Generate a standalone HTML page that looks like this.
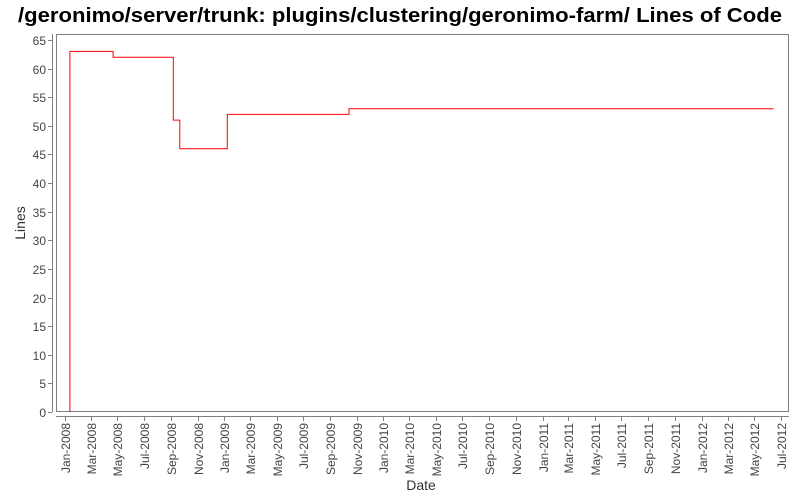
<!DOCTYPE html>
<html><head><meta charset="utf-8">
<style>
html,body{margin:0;padding:0;background:#fff;}
svg{display:block;font-family:"Liberation Sans","DejaVu Sans",sans-serif;}
</style></head>
<body>
<svg id="chart" width="800" height="500" viewBox="0 0 800 500">
<text x="400" y="22" text-anchor="middle" font-size="20" font-weight="bold" textLength="764" lengthAdjust="spacingAndGlyphs">/geronimo/server/trunk: plugins/clustering/geronimo-farm/ Lines of Code</text>
<rect x="56.5" y="34.5" width="732" height="377" fill="#fff" stroke="#808080"/>
<line x1="52.5" y1="34" x2="52.5" y2="412" stroke="#808080"/>
<line x1="56" y1="416.5" x2="789" y2="416.5" stroke="#808080"/>
<g id="yaxis"></g>
<g id="xaxis"></g>
<text transform="translate(25,223) rotate(-90)" text-anchor="middle" font-size="14" fill="#333">Lines</text>
<text x="421" y="490" text-anchor="middle" font-size="14" fill="#333">Date</text>
<g id="series"></g>
</svg>
<script>
const stepDates = ["2008-01-13","2008-04-21","2008-09-06","2008-09-21","2009-01-08","2009-10-14","2012-06-14"];
const stepValues = [63,62,51,46,52,53,53];
const yTicks = [0,5,10,15,20,25,30,35,40,45,50,55,60,65];
const xTickLabels = ["Jan-2008","Mar-2008","May-2008","Jul-2008","Sep-2008","Nov-2008","Jan-2009","Mar-2009","May-2009","Jul-2009","Sep-2009","Nov-2009","Jan-2010","Mar-2010","May-2010","Jul-2010","Sep-2010","Nov-2010","Jan-2011","Mar-2011","May-2011","Jul-2011","Sep-2011","Nov-2011","Jan-2012","Mar-2012","May-2012","Jul-2012"];

const NS="http://www.w3.org/2000/svg";
const t0=Date.UTC(2008,0,1), t1=Date.UTC(2012,6,1);
const xPix0=64.7, xPix1=781;
function xScale(d){const t=(typeof d==="string")?Date.parse(d+"T00:00:00Z"):d;return xPix0+(t-t0)/(t1-t0)*(xPix1-xPix0);}
function yScale(v){return 412-v*(372/65);}
const mon={Jan:0,Feb:1,Mar:2,Apr:3,May:4,Jun:5,Jul:6,Aug:7,Sep:8,Oct:9,Nov:10,Dec:11};

const ya=document.getElementById('yaxis');
yTicks.forEach(v=>{
  const y=Math.round(yScale(v))+0.5;
  const l=document.createElementNS(NS,'line');
  
  
  l.setAttribute('x1',48);l.setAttribute('x2',52);l.setAttribute('y1',y);l.setAttribute('y2',y);l.setAttribute('stroke','#808080');
  ya.appendChild(l);
  const t=document.createElementNS(NS,'text');
  
  
  t.setAttribute('x',46);t.setAttribute('y',y+4.5);t.setAttribute('text-anchor','end');t.setAttribute('font-size','12');t.setAttribute('fill','#444');
  t.textContent=v;ya.appendChild(t);
});
const xa=document.getElementById('xaxis');
xTickLabels.forEach(lab=>{
  const [m,yr]=lab.split('-');
  const x=Math.round(xScale(Date.UTC(+yr,mon[m],1)))+0.5;
  const l=document.createElementNS(NS,'line');
  
  
  l.setAttribute('x1',x);l.setAttribute('x2',x);l.setAttribute('y1',417);l.setAttribute('y2',421);l.setAttribute('stroke','#808080');
  xa.appendChild(l);
  const t=document.createElementNS(NS,'text');
  
  
  t.setAttribute('transform','translate('+(x+4.5)+',423) rotate(-90)');t.setAttribute('text-anchor','end');t.setAttribute('font-size','12');t.setAttribute('fill','#444');
  t.textContent=lab;xa.appendChild(t);
});
let d='M'+xScale(stepDates[0]).toFixed(1)+','+yScale(0).toFixed(1);
for(let i=0;i<stepDates.length;i++){
  const x=xScale(stepDates[i]).toFixed(1);
  d+=' L'+x+','+yScale(i===0?0:stepValues[i-1]).toFixed(1)+' L'+x+','+yScale(stepValues[i]).toFixed(1);
}
const p=document.createElementNS(NS,'path');


p.setAttribute('d',d);p.setAttribute('fill','none');p.setAttribute('stroke','#ff0000');p.setAttribute('stroke-width','1');
document.getElementById('series').appendChild(p);
</script>
</body></html>
